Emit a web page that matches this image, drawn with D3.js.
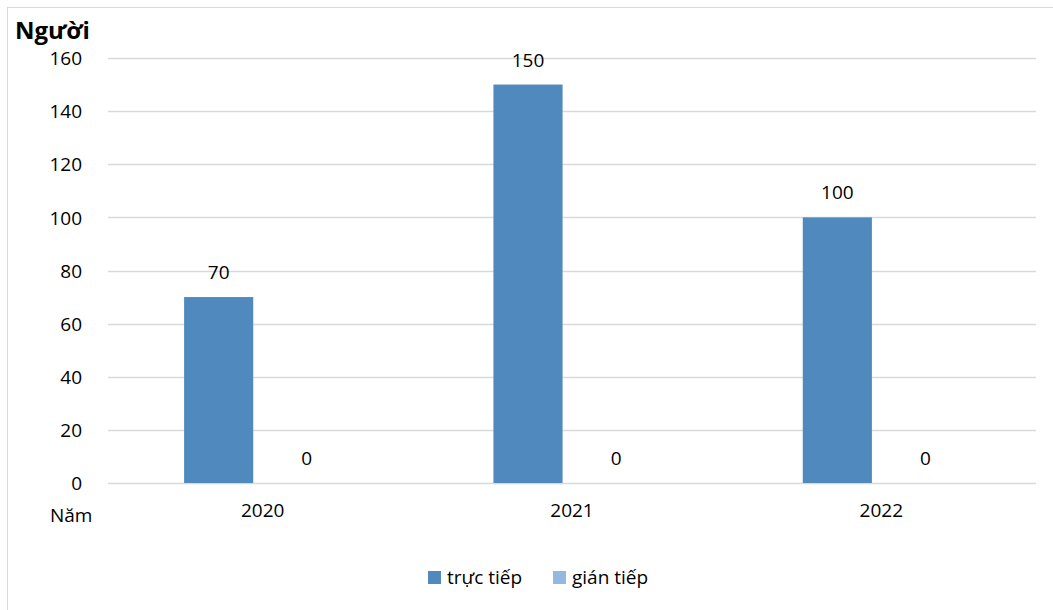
<!DOCTYPE html>
<html>
<head>
<meta charset="utf-8">
<script src="https://cdn.jsdelivr.net/npm/d3@7"></script>
<style>
  html, body { margin: 0; padding: 0; background: #fff; }
  svg { display: block; }
  text { font-family: "Open Sans", "Noto Sans", sans-serif; fill: #000; }
</style>
</head>
<body>
<svg id="chart" width="1053" height="610"></svg>
<script>
// Số người theo năm, chia theo hình thức
const categories = ["2020", "2021", "2022"];
const seriesNames = ["trực tiếp", "gián tiếp"];
const directValues = [70, 150, 100];
const indirectValues = [0, 0, 0];
const yTicks = [0, 20, 40, 60, 80, 100, 120, 140, 160];
const seriesColors = ["#4F89BD", "#95B8E0"];

const seriesValues = [directValues, indirectValues];
const rows = categories.map((c, i) => ({
  category: c,
  values: seriesNames.map((s, j) => ({ series: s, value: seriesValues[j][i], idx: j }))
}));

const FS = 19;
const svg = d3.select("#chart");

// chart frame
svg.append("rect")
  .attr("x", 7.5).attr("y", 7.5)
  .attr("width", 1060).attr("height", 620)
  .attr("fill", "none").attr("stroke", "#d9d9d9").attr("stroke-width", 1);

const plot = { left: 108, right: 1036, top: 58, bottom: 483 };

const x0 = d3.scaleBand().domain(categories).range([plot.left, plot.right]).padding(0);
const bw = x0.bandwidth();
const x1 = d3.scaleBand().domain(seriesNames)
  .range([bw * 0.246, bw * 0.693]).padding(0);
const y = d3.scaleLinear().domain([0, 160]).range([plot.bottom, plot.top]);

// gridlines
svg.append("g")
  .selectAll("line")
  .data(yTicks)
  .join("line")
  .attr("x1", plot.left).attr("x2", plot.right)
  .attr("y1", d => Math.round(y(d)) + 0.5).attr("y2", d => Math.round(y(d)) + 0.5)
  .attr("stroke", "#d9d9d9").attr("stroke-width", 1.3);

// y axis labels
const yAxis = d3.axisLeft(y).tickValues(yTicks).tickSize(0).tickPadding(0);
const yg = svg.append("g").attr("transform", `translate(${plot.left - 26},0)`).call(yAxis);
yg.select(".domain").remove();
yg.selectAll("text")
  .attr("font-size", FS)
  .attr("font-family", "'Open Sans', sans-serif")
  .attr("fill", "#000")
  .attr("dy", "0.35em");

// x axis labels
const xAxis = d3.axisBottom(x0).tickSize(0).tickPadding(0);
const xg = svg.append("g").attr("transform", `translate(0,${plot.bottom + 21})`).call(xAxis);
xg.select(".domain").remove();
xg.selectAll("text")
  .attr("font-size", FS)
  .attr("font-family", "'Open Sans', sans-serif")
  .attr("fill", "#000")
  .attr("dy", "0.7em");

// bars
const groups = svg.append("g")
  .selectAll("g")
  .data(rows)
  .join("g")
  .attr("transform", d => `translate(${x0(d.category)},0)`);

groups.selectAll("rect")
  .data(d => d.values)
  .join("rect")
  .attr("x", d => x1(d.series))
  .attr("width", x1.bandwidth())
  .attr("y", d => y(d.value))
  .attr("height", d => y(0) - y(d.value))
  .attr("fill", d => seriesColors[d.idx]);

// value labels
groups.selectAll("text.val")
  .data(d => d.values)
  .join("text")
  .attr("class", "val")
  .attr("x", d => x1(d.series) + x1.bandwidth() / 2 + (d.value === 0 ? 19 : 0))
  .attr("y", d => y(d.value) - 18)
  .attr("text-anchor", "middle")
  .attr("font-size", FS)
  .text(d => d.value);

// axis titles
svg.append("text")
  .attr("x", 15).attr("y", 39)
  .attr("font-size", 24).attr("font-weight", "bold")
  .text("Người");

svg.append("text")
  .attr("x", 50).attr("y", 522)
  .attr("font-size", FS)
  .text("Năm");

// legend
const legendItems = [
  { name: seriesNames[0], color: seriesColors[0], x: 428 },
  { name: seriesNames[1], color: seriesColors[1], x: 553 }
];
const lg = svg.append("g").selectAll("g").data(legendItems).join("g")
  .attr("transform", d => `translate(${d.x},571)`);
lg.append("rect").attr("width", 13).attr("height", 13).attr("fill", d => d.color);
lg.append("text").attr("x", 19).attr("y", 13).attr("font-size", FS).text(d => d.name);
</script>
</body>
</html>
